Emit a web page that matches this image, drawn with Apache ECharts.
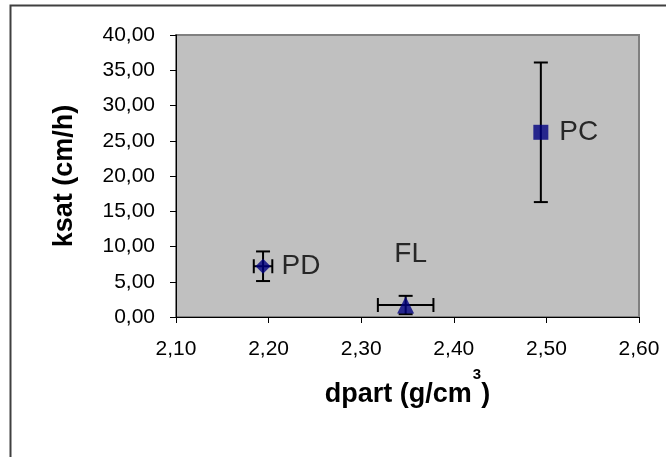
<!DOCTYPE html>
<html><head><meta charset="utf-8">
<script src="https://cdn.jsdelivr.net/npm/echarts@6/dist/echarts.min.js"></script>
<style>html,body{margin:0;padding:0;background:#fff}#c{width:666px;height:457px}</style>
</head><body><div id="c"></div>
<script>
var names = ['PD', 'FL', 'PC'];
var dpart = [2.194, 2.348, 2.494];
var ksat = [7.2, 1.7, 26.2];
var errX = [0.010, 0.030, 0.000];
var errY = [2.1, 1.3, 9.9];
var symbols = ['diamond', 'triangle', 'rect'];
var xTicks = [2.10, 2.20, 2.30, 2.40, 2.50, 2.60];
var yTicks = [0, 5, 10, 15, 20, 25, 30, 35, 40];

var chart = echarts.init(document.getElementById('c'));
function fmt(v){ return v.toFixed(2).replace('.', ','); }
var font = 'Liberation Sans, Arial, sans-serif';

var pointSeries = names.map(function(n, i){
  var isFL = n === 'FL';
  return {
    type: 'scatter', name: n, z: 5,
    symbol: symbols[i],
    symbolSize: isFL ? 17 : 15,
    itemStyle: {color: '#000080'},
    label: {show: true, formatter: n, position: isFL ? 'top' : 'right',
      distance: isFL ? 28 : 11,
      offset: isFL ? [5, 0] : [0, 0],
      color: '#000', fontSize: 28, fontFamily: font},
    data: [[dpart[i], ksat[i]]]
  };
});

var errData = names.map(function(n, i){ return [dpart[i], ksat[i], errX[i], errY[i]]; });

var option = {
  animation: false,
  backgroundColor: '#fff',
  graphic: [{type: 'rect', shape: {x: 10.5, y: 5.5, width: 700, height: 500},
    style: {fill: 'none', stroke: '#404040', lineWidth: 2}, z: -1}],
  grid: {left: 176, top: 35, right: 27, bottom: 140, show: true,
    backgroundColor: '#C0C0C0', borderColor: '#808080', borderWidth: 2},
  xAxis: {type: 'value', min: 2.10, max: 2.60, interval: 0.1,
    name: '{a|dpart (g/cm}{s|3}{a|)}', nameLocation: 'middle', nameGap: 43,
    nameTextStyle: {rich: {
      a: {fontSize: 27, fontWeight: 'bold', fontFamily: font, color: '#000', verticalAlign: 'middle', lineHeight: 60},
      s: {fontSize: 15, fontWeight: 'bold', fontFamily: font, color: '#000', verticalAlign: 'top', lineHeight: 16, padding: [2, 0, 0, 1]}
    }},
    axisLine: {onZero: false, lineStyle: {color: '#000', width: 1}},
    axisTick: {show: true, inside: false, length: 6, lineStyle: {color: '#000'}},
    axisLabel: {formatter: fmt, color: '#000', fontSize: 21, fontFamily: font, margin: 22},
    splitLine: {show: false}},
  yAxis: {type: 'value', min: 0, max: 40, interval: 5,
    name: 'ksat (cm/h)', nameLocation: 'middle', nameGap: 98,
    nameTextStyle: {fontSize: 27, fontWeight: 'bold', fontFamily: font, color: '#000'},
    axisLine: {show: true, onZero: false, lineStyle: {color: '#000', width: 1}},
    axisTick: {show: true, inside: false, length: 6, lineStyle: {color: '#000'}},
    axisLabel: {formatter: fmt, color: '#000', fontSize: 21, fontFamily: font, margin: 21},
    splitLine: {show: false}},
  series: [{
    type: 'custom', z: 3,
    renderItem: function(params, api){
      var x = api.value(0), y = api.value(1), ex = api.value(2), ey = api.value(3);
      var c = api.coord([x, y]);
      var children = [];
      var st = {stroke: '#000', lineWidth: 2};
      var cap = 7;
      if (ey > 0) {
        var t = api.coord([x, y + ey]), b = api.coord([x, y - ey]);
        children.push({type: 'line', shape: {x1: c[0], y1: t[1], x2: c[0], y2: b[1]}, style: st});
        children.push({type: 'line', shape: {x1: c[0]-cap, y1: t[1], x2: c[0]+cap, y2: t[1]}, style: st});
        children.push({type: 'line', shape: {x1: c[0]-cap, y1: b[1], x2: c[0]+cap, y2: b[1]}, style: st});
      }
      if (ex > 0) {
        var l = api.coord([x - ex, y]), r = api.coord([x + ex, y]);
        children.push({type: 'line', shape: {x1: l[0], y1: c[1], x2: r[0], y2: c[1]}, style: st});
        children.push({type: 'line', shape: {x1: l[0], y1: c[1]-cap, x2: l[0], y2: c[1]+cap}, style: st});
        children.push({type: 'line', shape: {x1: r[0], y1: c[1]-cap, x2: r[0], y2: c[1]+cap}, style: st});
      }
      return {type: 'group', children: children};
    },
    clip: true,
    data: errData
  }].concat(pointSeries)
};
chart.setOption(option);
</script></body></html>
